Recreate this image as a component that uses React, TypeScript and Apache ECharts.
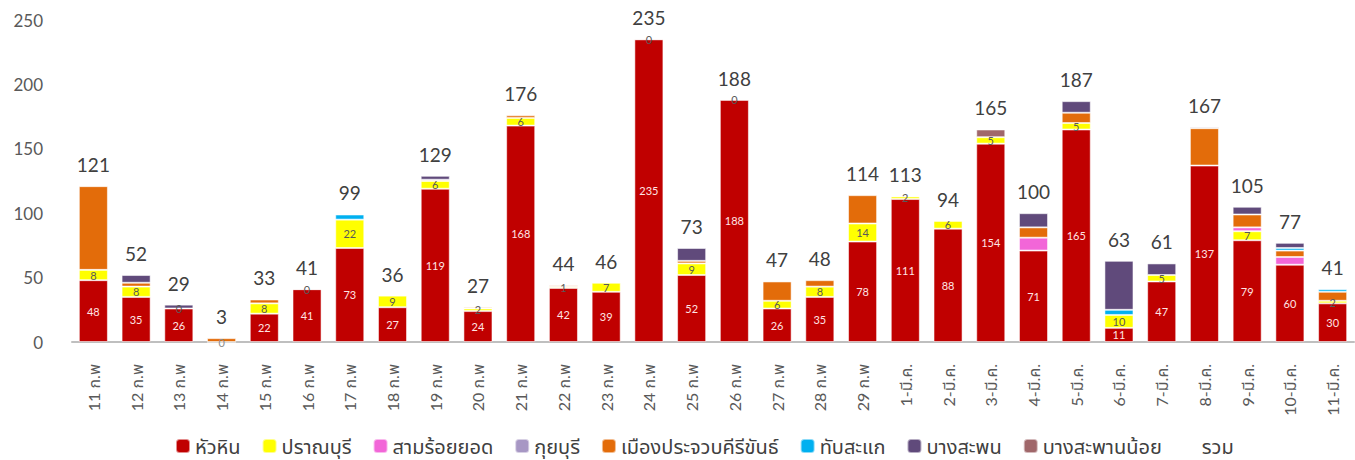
import React, { useEffect, useRef } from "react";
import * as echarts from "echarts";

const categories = [
  "11 ก.พ", "12 ก.พ", "13 ก.พ", "14 ก.พ", "15 ก.พ", "16 ก.พ", "17 ก.พ", "18 ก.พ", "19 ก.พ", "20 ก.พ",
  "21 ก.พ", "22 ก.พ", "23 ก.พ", "24 ก.พ", "25 ก.พ", "26 ก.พ", "27 ก.พ", "28 ก.พ", "29 ก.พ",
  "1-มี.ค.", "2-มี.ค.", "3-มี.ค.", "4-มี.ค.", "5-มี.ค.", "6-มี.ค.", "7-มี.ค.", "8-มี.ค.", "9-มี.ค.", "10-มี.ค.", "11-มี.ค.",
];

const huaHin = [48, 35, 26, 0, 22, 41, 73, 27, 119, 24, 168, 42, 39, 235, 52, 188, 26, 35, 78, 111, 88, 154, 71, 165, 11, 47, 137, 79, 60, 30];
const pranBuri = [8, 8, 0, null, 8, 0, 22, 9, 6, 2, 6, 1, 7, 0, 9, 0, 6, 8, 14, 2, 6, 5, null, 5, 10, 5, null, 7, null, 2];
const samRoiYot = [null, null, null, null, null, null, null, null, null, null, null, null, null, null, null, null, null, null, null, null, null, null, 10, null, null, null, null, 3, 6, null];
const kuiBuri = [null, null, null, null, null, null, null, null, null, null, null, null, null, null, null, null, null, null, null, null, null, null, null, null, null, null, null, null, null, null];
const muang = [65, 3, null, 3, 3, null, null, null, 1, 1, 2, 1, null, null, 2, null, 15, 5, 22, null, null, null, 8, 8, null, null, 29, 10, 5, 7];
const thapSakae = [null, null, null, null, null, null, 4, null, null, null, null, null, null, null, null, null, null, null, null, null, null, null, null, null, 4, null, null, null, 2, 2];
const bangSaphan = [null, 6, 3, null, null, null, null, null, 3, null, null, null, null, null, 10, null, null, null, null, null, null, null, 11, 9, 38, 9, 1, 6, 4, null];
const bangSaphanNoi = [null, null, null, null, null, null, null, null, null, null, null, null, null, null, null, null, null, null, null, null, null, 6, null, null, null, null, null, null, null, null];
const totals = [121, 52, 29, 3, 33, 41, 99, 36, 129, 27, 176, 44, 46, 235, 73, 188, 47, 48, 114, 113, 94, 165, 100, 187, 63, 61, 167, 105, 77, 41];

const yTicks = { min: 0, max: 250, interval: 50 };

const FONT = "Lato, 'Noto Sans Thai', 'Noto Sans', sans-serif";

export default function App() {
  const ref = useRef<HTMLDivElement>(null);
  useEffect(() => {
    if (!ref.current) return;
    const chart = echarts.init(ref.current, undefined, { renderer: "svg" });
    const border = { borderColor: "rgba(255,255,255,0.55)", borderWidth: 1 };
    const barBase = { type: "bar", stack: "s", barCategoryGap: "32%" };
    const seg = (name: string, data: any[], color: string, label?: any) => ({
      ...barBase,
      name,
      data,
      itemStyle: { color, ...border },
      label: label || { show: false },
    });
    chart.setOption({
      animation: false,
      textStyle: { fontFamily: FONT },
      grid: { left: 72, right: 1, top: 20, bottom: 118, containLabel: false },
      legend: {
        left: 170,
        top: 429,
        itemWidth: 14,
        itemHeight: 14,
        itemGap: 21,
        textStyle: { fontSize: 20, color: "#404040", fontFamily: FONT, lineHeight: 24 },
        data: [
          { name: "หัวหิน" },
          { name: "ปราณบุรี" },
          { name: "สามร้อยยอด" },
          { name: "กุยบุรี" },
          { name: "เมืองประจวบคีรีขันธ์" },
          { name: "ทับสะแก" },
          { name: "บางสะพน" },
          { name: "บางสะพานน้อย" },
          { name: "รวม", icon: "none" },
        ],
      },
      xAxis: {
        type: "category",
        data: categories,
        axisLine: { lineStyle: { color: "#bfbfbf", width: 2 } },
        axisTick: { show: false },
        axisLabel: { rotate: 90, fontSize: 16, color: "#595959", margin: 22, interval: 0, fontFamily: FONT },
      },
      yAxis: {
        type: "value",
        ...yTicks,
        splitLine: { show: false },
        axisLine: { show: false },
        axisTick: { show: false },
        axisLabel: { fontSize: 17, color: "#595959", margin: 29, fontFamily: FONT },
      },
      series: [
        seg(
          "หัวหิน",
          huaHin.map((v) => (v === 0 ? { value: v, label: { color: "#8c8c8c" } } : v)),
          "#C00000",
          { show: true, position: "inside", color: "#ffe4e4", fontSize: 11 }
        ),
        seg("ปราณบุรี", pranBuri, "#FFFF00", {
          show: true,
          position: "inside",
          color: "#595959",
          fontSize: 11,
        }),
        seg("สามร้อยยอด", samRoiYot, "#F266D8"),
        seg("กุยบุรี", kuiBuri, "#A797C4"),
        seg("เมืองประจวบคีรีขันธ์", muang, "#E36C0A"),
        seg("ทับสะแก", thapSakae, "#00B0F0"),
        seg("บางสะพน", bangSaphan, "#604A7B"),
        seg("บางสะพานน้อย", bangSaphanNoi, "#A0676A"),
        {
          type: "line",
          name: "รวม",
          data: totals,
          symbol: "circle",
          symbolSize: 0,
          showSymbol: true,
          lineStyle: { width: 0, opacity: 0 },
          itemStyle: { color: "rgba(0,0,0,0)" },
          label: { show: true, position: "top", distance: 12, fontSize: 19, color: "#404040" },
          z: 5,
        },
      ],
    });
    return () => chart.dispose();
  }, []);
  return (
    <div
      ref={ref}
      style={{ position: "fixed", left: 0, top: 0, width: 1355, height: 460, background: "#fff" }}
    />
  );
}
